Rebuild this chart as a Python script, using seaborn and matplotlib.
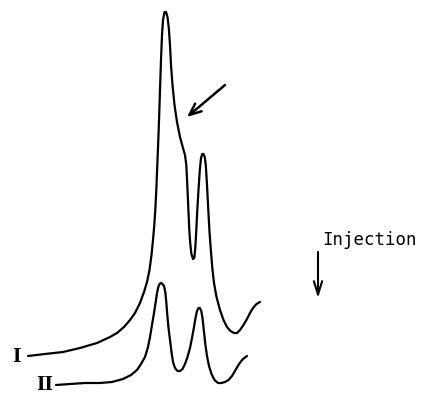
import matplotlib
matplotlib.use("Agg")
import matplotlib.pyplot as plt
import seaborn as sns
import pandas as pd

trace1_x = [28, 45, 63, 80, 97, 110, 117, 124, 130, 135, 140, 144, 147, 149.5, 151.5, 153, 154.3, 155.3, 156.3,
            157.3, 158.3, 159.2, 160, 161, 162, 163, 164.5, 166, 167.5, 168.8, 170, 171, 172.5, 174.5, 177,
            180, 183, 185, 186.3, 187.3, 188.3, 189.3, 190.3, 191.4, 193, 194.3, 195.3, 196.3, 197.3, 198.5,
            199.8, 201, 202.2, 203.5, 204.7, 205.8, 207, 208.3, 209.5, 211, 212.5, 214, 216.5, 220, 223.5, 227,
            230.5, 234, 237, 240, 243.5, 247, 250, 253, 256.5, 260]
trace1_y = [356, 354, 352, 348, 343, 337, 333, 327, 320, 313, 303, 292, 282, 270, 255, 240, 225, 210, 190,
            165, 140, 115, 90, 60, 35, 20, 12, 12, 17, 28, 45, 65, 85, 105, 122,
            137, 148, 155, 165, 185, 208, 230, 244, 254, 259, 258, 248, 230, 210, 190,
            170, 158, 154, 154, 157, 165, 185, 210, 232, 252, 270, 283, 297, 310, 320, 327,
            331, 333, 333, 330, 325, 319, 313, 308, 304, 302]

trace2_x = [56, 70, 85, 100, 112, 123, 131, 137, 141, 145, 148, 150, 152, 154, 155.7, 157, 158.3, 159.5, 161, 162.5,
            164, 165.3, 166.3, 167.3, 168.5, 170, 171.5, 173, 175, 177.5, 180, 182.5, 185, 187.5, 190, 192,
            194, 195.5, 197, 198.5, 200, 201.3, 202.5, 203.8, 205.3, 207, 209, 211.5, 214.5, 218, 221.5, 225,
            228.5, 232, 235.5, 239, 243, 247]
trace2_y = [385, 384, 383, 383, 382, 379, 375, 370, 364, 357, 347, 337, 325, 313, 302, 293, 287, 284, 283, 284,
            286, 292, 302, 315, 328, 340, 352, 362, 368, 371, 371, 369, 364, 357, 348, 338,
            327, 318, 311, 308, 308, 311, 318, 330, 344, 356, 366, 374, 380, 383, 383, 382,
            380, 376, 370, 364, 359, 356]

trace_labels = ["I", "II"]
label_x = [16, 45]
label_y = [357, 385]

injection_text = "Injection"

sns.set_theme(style="white")
fig = plt.figure(figsize=(4.21, 4.18), dpi=100)
ax = fig.add_axes([0, 0, 1, 1])

df1 = pd.DataFrame({"x": trace1_x, "y": trace1_y})
df2 = pd.DataFrame({"x": trace2_x, "y": trace2_y})
sns.lineplot(data=df1, x="x", y="y", sort=False, estimator=None, color="black", lw=1.6,
             solid_joinstyle="round", solid_capstyle="round", ax=ax)
sns.lineplot(data=df2, x="x", y="y", sort=False, estimator=None, color="black", lw=1.6,
             solid_joinstyle="round", solid_capstyle="round", ax=ax)

ax.set_xlim(0, 421)
ax.set_ylim(418, 0)
ax.set_axis_off()

for lab, lx, ly in zip(trace_labels, label_x, label_y):
    ax.text(lx, ly, lab, ha="center", va="center", fontsize=13, fontweight="bold",
            family="DejaVu Serif", color="black")

# Shoulder arrow
ax.annotate("", xy=(187, 117), xytext=(225, 85),
            arrowprops=dict(arrowstyle="->,head_length=0.7,head_width=0.3", color="black", lw=1.8,
                            shrinkA=0, shrinkB=0))

# Injection marker
ax.text(369, 245, injection_text, ha="center", va="baseline", fontsize=12.5,
        family="DejaVu Sans Mono", color="black")
ax.annotate("", xy=(318, 298), xytext=(318, 252),
            arrowprops=dict(arrowstyle="->,head_length=0.8,head_width=0.25", color="black", lw=1.5,
                            shrinkA=0, shrinkB=0))

fig.savefig("out.png", dpi=100)
